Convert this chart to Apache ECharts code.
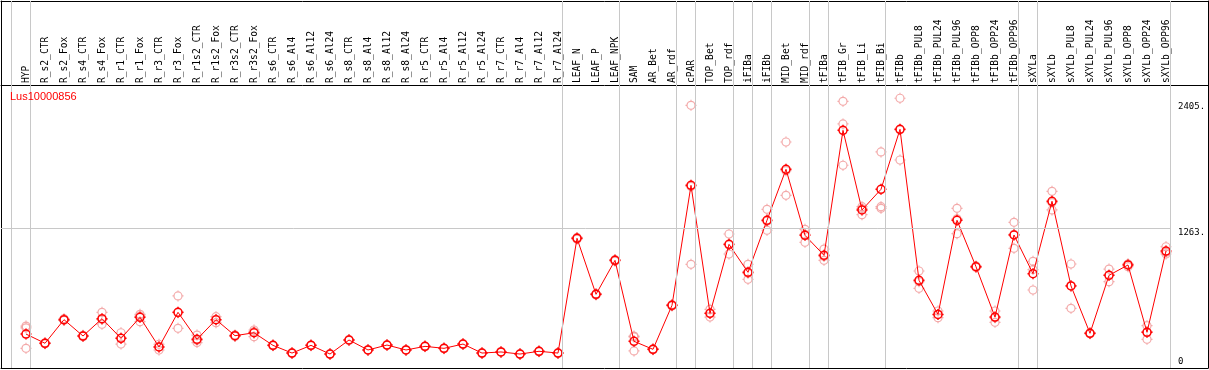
<!DOCTYPE html>
<html>
<head>
<meta charset="utf-8">
<style>html,body{margin:0;padding:0;background:#fff;}#c{width:1209px;height:370px;}</style>
<script src="https://cdn.jsdelivr.net/npm/echarts@6/dist/echarts.min.js"></script>
</head>
<body>
<div id="c"></div>
<script>
const categories = ["HYP","R_s2_CTR","R_s2_Fox","R_s4_CTR","R_s4_Fox","R_r1_CTR","R_r1_Fox","R_r3_CTR","R_r3_Fox","R_r1s2_CTR","R_r1s2_Fox","R_r3s2_CTR","R_r3s2_Fox","R_s6_CTR","R_s6_Al4","R_s6_Al12","R_s6_Al24","R_s8_CTR","R_s8_Al4","R_s8_Al12","R_s8_Al24","R_r5_CTR","R_r5_Al4","R_r5_Al12","R_r5_Al24","R_r7_CTR","R_r7_Al4","R_r7_Al12","R_r7_Al24","LEAF_N","LEAF_P","LEAF_NPK","SAM","AR_Bet","AR_rdf","cPAR","TOP_Bet","TOP_rdf","iFIBa","iFIBb","MID_Bet","MID_rdf","tFIBa","tFIB_Gr","tFIB_Li","tFIB_Bi","tFIBb","tFIBb_PUL8","tFIBb_PUL24","tFIBb_PUL96","tFIBb_OPP8","tFIBb_OPP24","tFIBb_OPP96","sXYLa","sXYLb","sXYLb_PUL8","sXYLb_PUL24","sXYLb_PUL96","sXYLb_OPP8","sXYLb_OPP24","sXYLb_OPP96"];
const means = [300,216,431,282,440,261,452,182,498,252,431,285,312,197,127,197,118,246,155,200,155,188,170,209,127,137,118,143,127,1172,662,971,234,161,562,1654,489,1117,862,1336,1800,1199,1017,2155,1430,1618,2164,789,479,1336,913,455,1202,850,1509,738,307,835,929,316,1056];
const repHigh = [373,220,440,288,498,312,480,207,647,291,458,292,337,200,130,200,121,250,158,203,158,191,173,212,130,140,121,146,130,1180,668,978,282,165,568,2383,525,1211,935,1436,2049,1254,1074,2419,1460,1958,2447,874,510,1445,920,510,1317,962,1600,938,312,892,938,376,1095];
const repMid = [357,216,428,280,433,262,463,184,495,243,431,285,323,197,127,197,118,246,155,200,155,188,170,209,127,137,118,143,127,1172,662,971,274,161,562,1644,487,1111,853,1327,1788,1208,1006,2213,1443,1460,2160,777,478,1349,913,448,1208,887,1497,742,307,836,936,320,1044];
const repLow = [170,212,425,278,389,209,413,155,352,222,404,278,276,194,124,194,115,242,152,197,152,185,167,206,124,134,115,140,124,1164,656,964,146,157,556,935,455,1029,798,1245,1563,1135,971,1837,1387,1445,1885,716,449,1214,906,407,1081,701,1430,534,302,777,913,252,1029];
const groupEnds = [-1,0,28,31,34,35,37,38,39,41,42,45,52,53,60];
const yTickValues = [0,1263,2405];
const yTickLabels = ["0","1263.","2405."];
const geneName = "Lus10000856";

const X_MIN = -1.3158, X_MAX = 62.2105;
const Y_MIN = -9.1, Y_MAX = 3332.7;
const sym = 'path://M5.5 1.5C7.709 1.5 9.5 3.291 9.5 5.5C9.5 7.709 7.709 9.5 5.5 9.5C3.291 9.5 1.5 7.709 1.5 5.5C1.5 3.291 3.291 1.5 5.5 1.5Z M5.5 0L5.5 1.5 M5.5 9.5L5.5 11 M0 5.5L1.5 5.5 M9.5 5.5L11 5.5';

const reps = [];
[repHigh, repMid, repLow].forEach(arr => arr.forEach((v, i) => reps.push([i, v])));

const plainLine = {show: true, onZero: false, lineStyle: {color: '#000', width: 1}};

const chart = echarts.init(document.getElementById('c'), null, {renderer: 'canvas'});
chart.setOption({
  animation: false,
  backgroundColor: '#ffffff',
  title: {
    text: geneName, left: 10, top: 91, padding: 0,
    textStyle: {color: '#ff0000', fontSize: 11, fontFamily: 'Liberation Sans', fontWeight: 'normal'}
  },
  grid: {left: 1, right: 1, top: 1, bottom: 2, containLabel: false},
  xAxis: [
    {
      type: 'value', position: 'top', offset: -84, min: X_MIN, max: X_MAX,
      axisLine: plainLine,
      axisTick: {show: false}, splitLine: {show: false},
      axisLabel: {
        customValues: categories.map((c, i) => i),
        rotate: -90, margin: 2, color: '#000',
        fontFamily: 'DejaVu Sans Mono', fontSize: 9.6,
        formatter: v => categories[Math.round(v)] || ''
      }
    },
    {
      type: 'value', position: 'bottom', min: X_MIN, max: X_MAX,
      axisLine: plainLine,
      axisTick: {show: false}, axisLabel: {show: false}, splitLine: {show: false}
    },
    {
      type: 'value', position: 'top', offset: 0, min: X_MIN, max: X_MAX,
      axisLine: plainLine,
      axisTick: {show: false}, axisLabel: {show: false}, splitLine: {show: false}
    }
  ],
  yAxis: [
    {
      type: 'value', position: 'left', min: Y_MIN, max: Y_MAX,
      axisLine: plainLine,
      axisTick: {show: false}, axisLabel: {show: false}, splitLine: {show: false}
    },
    {
      type: 'value', position: 'right', min: Y_MIN, max: Y_MAX,
      axisLine: plainLine,
      axisTick: {show: false}, splitLine: {show: false},
      axisLabel: {
        customValues: yTickValues, inside: true, align: 'left', margin: 30,
        color: '#000', fontFamily: 'DejaVu Sans Mono', fontSize: 9,
        formatter: v => {
          const k = yTickValues.indexOf(v);
          const t = k >= 0 ? yTickLabels[k] : '';
          return v === 0 ? '{z|' + t + '}' : '{n|' + t + '}';
        },
        rich: {
          n: {padding: [8, 0, 0, 0], fontFamily: 'DejaVu Sans Mono', fontSize: 9, color: '#000'},
          z: {padding: [0, 0, 11, 0], fontFamily: 'DejaVu Sans Mono', fontSize: 9, color: '#000'}
        }
      }
    }
  ],
  series: [
    {
      type: 'scatter', name: 'replicates', xAxisIndex: 0, yAxisIndex: 0, z: 2,
      data: reps, symbol: sym, symbolSize: 11, silent: true,
      itemStyle: {color: 'rgba(255,255,255,0)', borderColor: '#f09595', borderWidth: 1.2},
      markLine: {
        silent: true, symbol: 'none', animation: false,
        label: {show: false},
        lineStyle: {color: '#c8c8c8', width: 1, type: 'solid'},
        emphasis: {disabled: true},
        data: groupEnds.map(e => ({xAxis: e + 0.22})).concat([[
          {coord: [X_MIN, yTickValues[1]]}, {coord: [60.22, yTickValues[1]]}
        ]])
      }
    },
    {
      type: 'line', name: geneName, xAxisIndex: 0, yAxisIndex: 0, z: 3,
      data: means.map((v, i) => [i, v]),
      symbol: sym, symbolSize: 11, showAllSymbol: true, silent: true,
      lineStyle: {color: '#ff0000', width: 1},
      itemStyle: {color: 'rgba(255,255,255,0)', borderColor: '#ff0000', borderWidth: 1.5}
    }
  ]
});
</script>
</body>
</html>
